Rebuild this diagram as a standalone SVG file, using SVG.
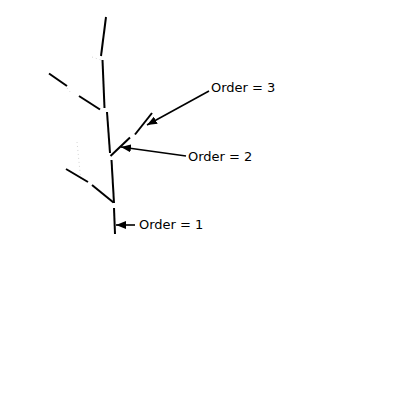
<svg xmlns="http://www.w3.org/2000/svg" width="400" height="400" viewBox="0 0 400 400">
<style>
.seg{stroke:#000;stroke-width:2;fill:none}
.faint{stroke:#c8c8c8;stroke-width:0.8;stroke-dasharray:1 3;fill:none}
.arr{stroke:#000;stroke-width:1.6;fill:none;marker-end:url(#ah)}
.lbl{font-family:"DejaVu Sans",sans-serif;font-size:13px;fill:#000}
</style>
<defs>
<marker id="ah" viewBox="0 0 10 8" refX="10" refY="4" markerWidth="10" markerHeight="8" markerUnits="userSpaceOnUse" orient="auto">
<path d="M0,0 L10,4 L0,8 Z" fill="#000"/>
</marker>
</defs>
<rect width="400" height="400" fill="#fff"/>
<g id="tree">
<line class="seg" x1="106" y1="17" x2="101" y2="56"/>
<line class="faint" x1="92" y1="57" x2="101" y2="60"/>
<line class="seg" x1="102.5" y1="60" x2="104.5" y2="108"/>
<line class="seg" x1="49" y1="73.5" x2="67" y2="86"/>
<line class="faint" x1="67" y1="88" x2="71" y2="93"/>
<line class="seg" x1="79" y1="96" x2="100" y2="109.5"/>
<line class="seg" x1="107" y1="112" x2="110" y2="153"/>
<line class="seg" x1="110.5" y1="156" x2="130" y2="137.5"/>
<line class="seg" x1="135" y1="134.5" x2="152" y2="113"/>
<line class="faint" x1="77" y1="142" x2="81" y2="182"/>
<line class="seg" x1="111.5" y1="160" x2="114" y2="203"/>
<line class="seg" x1="66" y1="169" x2="88" y2="182"/>
<line class="seg" x1="92" y1="185" x2="113.5" y2="202.5"/>
<line class="seg" x1="114" y1="208" x2="115" y2="234"/>
</g>
<g id="connectors">
<line class="arr" x1="209" y1="91" x2="147" y2="125"/>
<line class="arr" x1="186" y1="156" x2="121" y2="147"/>
<line class="arr" x1="135" y1="225" x2="116" y2="225"/>
</g>
<g id="label3"><text class="lbl" x="211" y="92">Order = 3</text></g>
<g id="label2"><text class="lbl" x="188" y="161">Order = 2</text></g>
<g id="label1"><text class="lbl" x="139" y="229">Order = 1</text></g>
</svg>
